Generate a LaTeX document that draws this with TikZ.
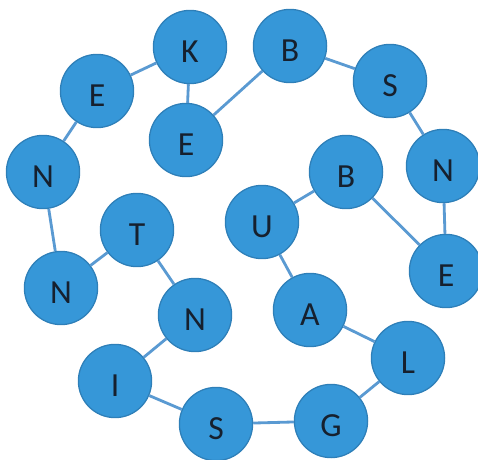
\documentclass[tikz,border=0pt]{standalone}
\usepackage{fontspec}
\setsansfont{Carlito}
\usepackage{xcolor}
\usepackage{tikz}
\usetikzlibrary{positioning}

\definecolor{ballfill}{HTML}{3697D8}
\definecolor{balledge}{HTML}{2E7FB8}
\definecolor{linkblue}{HTML}{5A9AD2}
\definecolor{letterink}{HTML}{16202E}

\begin{document}
\begin{tikzpicture}[
    x=0.025cm, y=-0.025cm,
    ball/.style={circle, draw=balledge, fill=ballfill, line width=0.9pt, minimum size=1.83cm, inner sep=0pt, text height=0.75cm, text depth=0pt, text=letterink, font=\sffamily\fontsize{24}{28}\selectfont},
    link/.style={draw=linkblue, line width=2pt},
]

\useasboundingbox (0,0) rectangle (478,459);

% top-left group
\node[ball] (k)  at (190, 47)  {K};
\node[ball] (e1) at (97, 91)   {E};
\node[ball] (e2) at (186, 140) {E};
\node[ball] (n1) at (43, 172)  {N};
\node[ball] (n2) at (61, 288)  {N};
\node[ball] (t)  at (137, 230) {T};
\node[ball] (n3) at (195, 315) {N};
\node[ball] (i)  at (115, 381) {I};

% top-right group
\node[ball] (b1) at (290, 46)  {B};
\node[ball] (s1) at (390, 81)  {S};
\node[ball] (n4) at (443, 166) {N};
\node[ball] (b2) at (346, 172) {B};
\node[ball] (e3) at (446, 271) {E};
\node[ball] (u)  at (262, 222) {U};

% bottom group
\node[ball] (a)  at (310, 310) {A};
\node[ball] (l)  at (408, 358) {L};
\node[ball] (g)  at (331, 421) {G};
\node[ball] (s2) at (216, 424) {S};

% links
\draw[link] (k) -- (e1);
\draw[link] (k) -- (e2);
\draw[link] (e1) -- (n1);
\draw[link] (n1) -- (n2);
\draw[link] (n2) -- (t);
\draw[link] (t) -- (n3);
\draw[link] (n3) -- (i);
\draw[link] (i) -- (s2);
\draw[link] (s2) -- (g);
\draw[link] (g) -- (l);
\draw[link] (l) -- (a);
\draw[link] (a) -- (u);
\draw[link] (u) -- (b2);
\draw[link] (b2) -- (e3);
\draw[link] (e3) -- (n4);
\draw[link] (n4) -- (s1);
\draw[link] (s1) -- (b1);
\draw[link] (b1) -- (e2);

\end{tikzpicture}
\end{document}
